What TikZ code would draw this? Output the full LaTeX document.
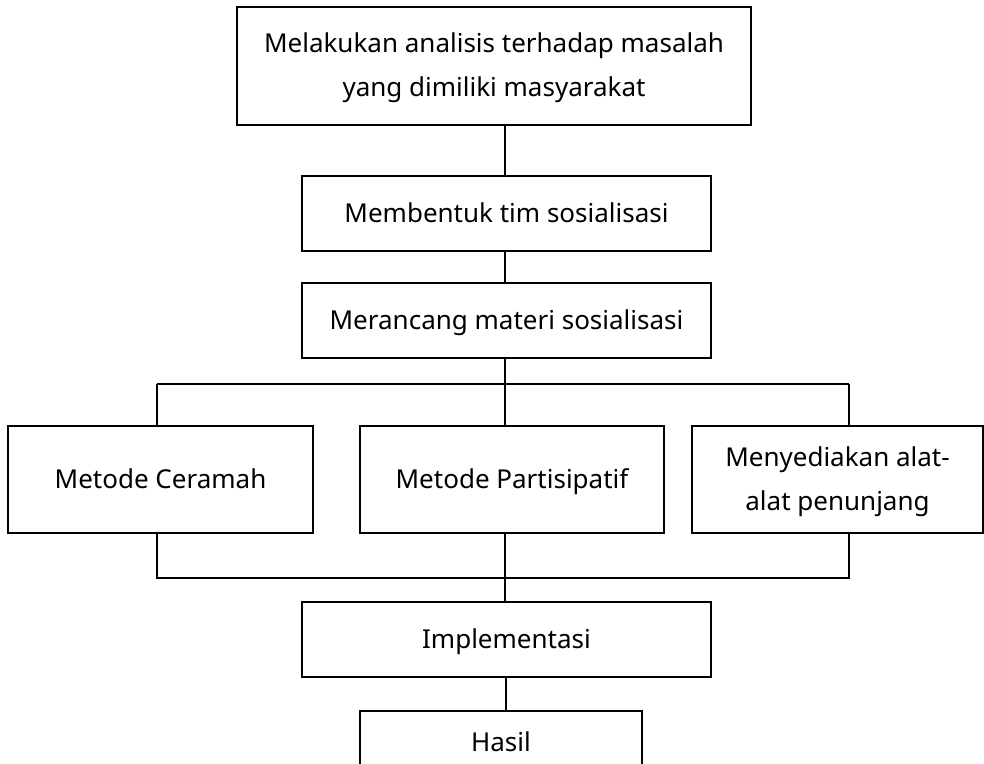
\documentclass[tikz,border=0pt]{standalone}
\usepackage{fontspec}
\setmainfont{Noto Sans}
\begin{document}
\begin{tikzpicture}[x=1pt,y=-1pt,
  box/.style={draw, line width=2.5pt, align=center, inner sep=0pt, font=\fontsize{26}{44}\selectfont},
  conn/.style={line width=2.5pt}]
\useasboundingbox (0,0) rectangle (984,763);
\clip (0,0) rectangle (984,763);
\node[box, minimum width=514pt, minimum height=118pt] (t) at (494,66) {\strut Melakukan analisis terhadap masalah\\\strut yang dimiliki masyarakat};
\node[box, minimum width=409pt, minimum height=75pt] (m) at (506.5,213.5) {\strut Membentuk tim sosialisasi};
\node[box, minimum width=409pt, minimum height=75pt] (r) at (506.5,320.5) {\strut Merancang materi sosialisasi};
\node[box, minimum width=305pt, minimum height=107pt] (a) at (160.5,479.5) {\strut Metode Ceramah};
\node[box, minimum width=304pt, minimum height=107pt] (b) at (512,479.5) {\strut Metode Partisipatif};
\node[box, minimum width=291pt, minimum height=107pt] (c) at (837.5,479.5) {\strut Menyediakan alat-\\\strut alat penunjang};
\node[box, minimum width=409pt, minimum height=75pt] (i) at (506.5,639.5) {\strut Implementasi};
\node[box, minimum width=282pt, minimum height=64pt] (h) at (501,743) {\strut Hasil};
\coordinate (bl) at (157,384);
\coordinate (bt) at (505,384);
\coordinate (br) at (849,384);
\coordinate (dl) at (157,578);
\coordinate (dc) at (505,578);
\coordinate (dr) at (849,578);
\draw[conn] (bt |- t.south) -- (bt |- m.north);
\draw[conn] (bt |- m.south) -- (bt |- r.north);
\draw[conn] (bt |- r.south) -- (bt);
\draw[conn] (bl) -- (br);
\draw[conn] (bl) -- (bl |- a.north);
\draw[conn] (bt) -- (bt |- b.north);
\draw[conn] (br) -- (br |- c.north);
\draw[conn] (bl |- a.south) -- (dl) -- (dr) -- (br |- c.south);
\draw[conn] (dc |- b.south) -- (dc) -- (dc |- i.north);
\draw[conn] (506,0 |- i.south) -- (506,0 |- h.north);
\end{tikzpicture}
\end{document}
